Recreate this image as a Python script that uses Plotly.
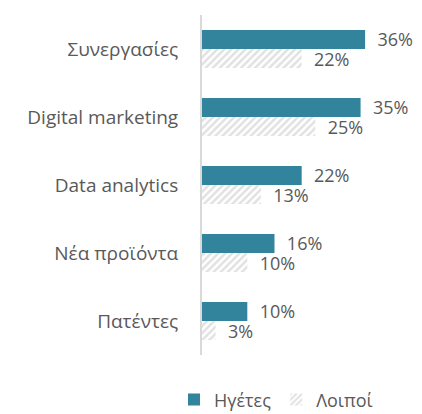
import plotly.graph_objects as go

categories = ["Συνεργασίες", "Digital marketing", "Data analytics", "Νέα προϊόντα", "Πατέντες"]
leaders = [36, 35, 22, 16, 10]
others = [22, 25, 13, 10, 3]
series_names = ["Ηγέτες", "Λοιποί"]

teal = "#31849B"
txt = "#595959"
font_family = "Open Sans, Noto Sans, sans-serif"
pad = "\u00a0\u00a0"

fig = go.Figure()
fig.add_trace(go.Bar(
    y=categories, x=leaders, orientation="h", name=series_names[0],
    marker=dict(color=teal, line=dict(width=0)),
    text=[f"{pad}{v}%" for v in leaders], textposition="outside", constraintext="none",
    textfont=dict(size=18, color=txt, family=font_family), cliponaxis=False,
))
fig.add_trace(go.Bar(
    y=categories, x=others, orientation="h", name=series_names[1],
    marker=dict(color="white", line=dict(width=0),
                pattern=dict(shape="/", fgcolor="#C4C4C4", bgcolor="white", size=5, solidity=0.5)),
    text=[f"{pad}{v}%" for v in others], textposition="outside", constraintext="none",
    textfont=dict(size=18, color=txt, family=font_family), cliponaxis=False,
))

fig.update_layout(
    width=414, height=406,
    margin=dict(l=194, r=22, t=7, b=59, autoexpand=False),
    paper_bgcolor="white", plot_bgcolor="white",
    barmode="group", bargap=0.44, bargroupgap=0,
    font=dict(family=font_family, color=txt, size=18),
    showlegend=True,
    legend=dict(orientation="h", x=-0.1414, xanchor="left",
                y=-0.132, yanchor="middle",
                font=dict(size=18, color=txt), itemwidth=30, traceorder="normal"),
    xaxis=dict(range=[0, 43.7], visible=False, showgrid=False, zeroline=False),
    yaxis=dict(autorange="reversed", showline=True, linecolor="#D9D9D9", linewidth=2,
               showgrid=False, ticks="", ticklabelstandoff=18,
               tickfont=dict(size=19, color=txt)),
)

fig.write_html("out.html")
